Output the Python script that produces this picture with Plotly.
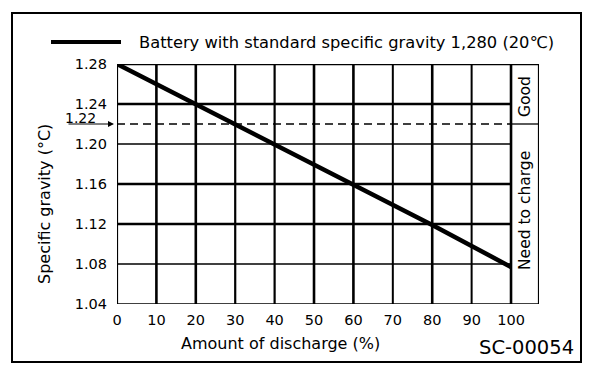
import plotly.graph_objects as go

# ---- data ----
discharge = [0, 20, 40, 60, 80, 100]
gravity = [1.28, 1.24, 1.20, 1.16, 1.119, 1.077]
x_ticks = [0, 10, 20, 30, 40, 50, 60, 70, 80, 90, 100]
y_ticks = [1.04, 1.08, 1.12, 1.16, 1.20, 1.24, 1.28]
y_ticktext = ["1.04", "1.08", "1.12", "1.16", "1.20", "1.24", "1.28"]
threshold = 1.22
legend_text = "Battery with standard specific gravity 1,280 (20℃)"

# page is drawn with an 8px body margin -> figure size reduced accordingly
W, H = 600, 378
PL, PT, PR, PB = 117, 64, 539, 304   # plot area in page pixels
OFF = 8
L, T = PL - OFF, PT - OFF
R, B = W - (PR - OFF), H - (PB - OFF)
PW, PH = PR - PL, PB - PT
XMAX = 107.1
FONT = "DejaVu Sans, Liberation Sans, Arial, sans-serif"

def px(x):
    return (x - PL) / PW

def py(y):
    return (PB - y) / PH

fig = go.Figure()
fig.add_trace(go.Scatter(x=discharge, y=gravity, mode="lines",
                         line=dict(color="black", width=4.5),
                         showlegend=False, hoverinfo="skip"))

shapes = []
thick_h = {1.24: 2.4, 1.20: 1.3, 1.16: 2.4, 1.12: 2.4, 1.08: 1.3}
for yv in y_ticks[1:-1]:
    shapes.append(dict(type="line", xref="x", yref="y", x0=0, x1=100, y0=yv, y1=yv,
                       line=dict(color="black", width=thick_h.get(yv, 1.5))))
thick_v = {10: 2.6, 20: 2.6, 30: 2.2, 40: 2.2, 50: 2.6, 60: 2.6, 70: 2, 80: 2.6, 90: 2}
for xv in x_ticks[1:-1]:
    shapes.append(dict(type="line", xref="x", yref="y", x0=xv, x1=xv, y0=1.04, y1=1.28,
                       line=dict(color="black", width=thick_v.get(xv, 2))))
shapes.append(dict(type="line", xref="x", yref="y", x0=100, x1=100, y0=1.04, y1=1.28,
                   line=dict(color="black", width=2.6)))
shapes.append(dict(type="line", xref="x", yref="y", x0=100, x1=XMAX, y0=threshold, y1=threshold,
                   line=dict(color="black", width=1.3)))
shapes.append(dict(type="line", xref="x", yref="y", x0=0, x1=100, y0=threshold, y1=threshold,
                   line=dict(color="black", width=1.3, dash="8px,5px")))
shapes.append(dict(type="line", xref="x", yref="y", x0=0, x1=XMAX, y0=1.28, y1=1.28,
                   line=dict(color="black", width=2.6)))
shapes.append(dict(type="line", xref="x", yref="y", x0=0, x1=XMAX, y0=1.04, y1=1.04,
                   line=dict(color="black", width=1.5)))
shapes.append(dict(type="line", xref="x", yref="y", x0=0, x1=0, y0=1.04, y1=1.28,
                   line=dict(color="black", width=2.2)))
shapes.append(dict(type="line", xref="x", yref="y", x0=XMAX, x1=XMAX, y0=1.04, y1=1.28,
                   line=dict(color="black", width=2.2)))
shapes.append(dict(type="rect", xref="paper", yref="paper", x0=px(12), x1=px(581),
                   y0=py(362), y1=py(13), line=dict(color="black", width=2)))
shapes.append(dict(type="line", xref="paper", yref="paper", x0=px(51), x1=px(121),
                   y0=py(42), y1=py(42), line=dict(color="black", width=4)))

ann = []
ann.append(dict(text=legend_text, xref="paper", yref="paper", x=px(137), y=py(42),
                xanchor="left", yanchor="middle", showarrow=False, font=dict(size=16.3)))
ann.append(dict(text="Specific gravity (°C)", xref="paper", yref="paper", x=px(45), y=py(204),
                textangle=-90, xanchor="center", yanchor="middle", showarrow=False, font=dict(size=16)))
ann.append(dict(text="Amount of discharge (%)", xref="paper", yref="paper", x=px(280), y=py(343),
                xanchor="center", yanchor="middle", showarrow=False, font=dict(size=16)))
ann.append(dict(text="Good", xref="paper", yref="paper", x=px(525), y=py(97),
                textangle=-90, xanchor="center", yanchor="middle", showarrow=False, font=dict(size=15.5)))
ann.append(dict(text="Need to charge", xref="paper", yref="paper", x=px(525), y=py(211),
                textangle=-90, xanchor="center", yanchor="middle", showarrow=False, font=dict(size=15.5)))
ann.append(dict(text="SC-00054", xref="paper", yref="paper", x=px(576), y=py(347),
                xanchor="right", yanchor="middle", showarrow=False, font=dict(size=19.5)))
ann.append(dict(text="1.22", xref="paper", yref="paper", x=px(80), y=py(118),
                xanchor="center", yanchor="middle", showarrow=False, font=dict(size=14)))
ann.append(dict(text="", xref="x", yref="y", x=0, y=threshold, ax=-50, ay=0,
                showarrow=True, arrowhead=2, arrowsize=1, arrowwidth=1.2,
                arrowcolor="black", standoff=3))

fig.update_layout(
    width=W, height=H,
    margin=dict(l=L, r=R, t=T, b=B, pad=0),
    paper_bgcolor="white", plot_bgcolor="white",
    font=dict(family=FONT, color="black", size=15),
    shapes=shapes, annotations=ann, showlegend=False,
    xaxis=dict(range=[0, XMAX], tickvals=x_ticks, showgrid=False, zeroline=False,
               showline=False, ticks="", ticklabelstandoff=5, tickfont=dict(size=14.5),
               fixedrange=True),
    yaxis=dict(range=[1.04, 1.28], tickvals=y_ticks, ticktext=y_ticktext, showgrid=False,
               zeroline=False, showline=False, ticks="", ticklabelstandoff=9,
               tickfont=dict(size=14.5), fixedrange=True),
)
fig.write_html("out.html")
